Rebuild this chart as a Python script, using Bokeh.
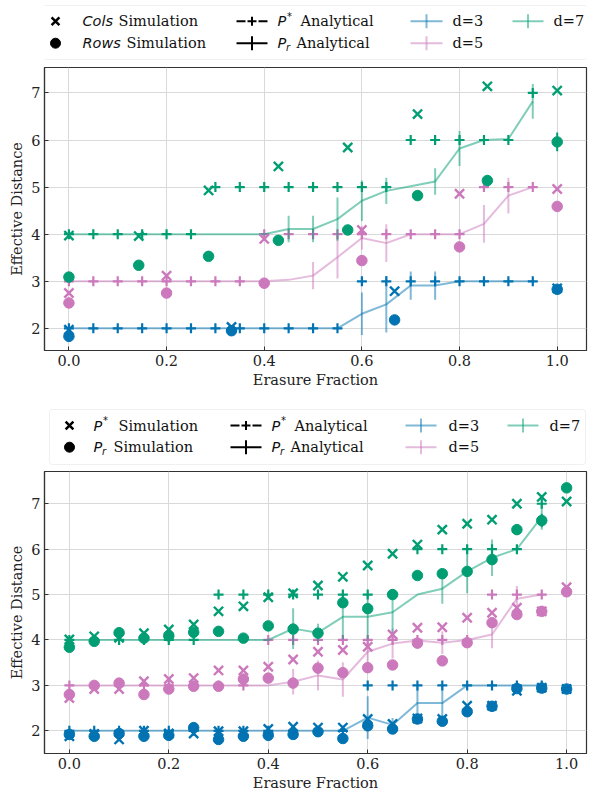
import numpy as np
from bokeh.plotting import figure
from bokeh.layouts import column
from bokeh.models import Range1d, FixedTicker, NumeralTickFormatter, BoxAnnotation
from bokeh.core.properties import value
from bokeh.embed import file_html
from bokeh.resources import INLINE

C3, C5, C7 = "#0173B2", "#CC78BC", "#029E73"
SERIF = "DejaVu Serif"
SANS = "DejaVu Sans"
FS = "14.5px"

# ---------------- data ----------------
x_ana = [0.0, 0.05, 0.1, 0.15, 0.2, 0.25, 0.3, 0.35, 0.4, 0.45,
         0.5, 0.55, 0.6, 0.65, 0.7, 0.75, 0.8, 0.85, 0.9, 0.95]
x_ticks = [0.0, 0.2, 0.4, 0.6, 0.8, 1.0]
y_ticks = [2, 3, 4, 5, 6, 7]

# top panel: analytical
top_pstar_d3 = [2, 2, 2, 2, 2, 2, 2, 2, 2, 2, 2, 2, 3, 3, 3, 3, 3, 3, 3, 3]
top_pstar_d5 = [3, 3, 3, 3, 3, 3, 3, 3, 4, 4, 4, 4, 4, 4, 4, 4, 4, 5, 5, 5]
top_pstar_d7 = [4, 4, 4, 4, 4, 4, 5, 5, 5, 5, 5, 5, 5, 5, 6, 6, 6, 6, 6, 7]
top_pr_d3 = [2, 2, 2, 2, 2, 2, 2, 2, 2, 2, 2, 2, 2.31, 2.51, 2.91, 2.91, 3, 3, 3, 3]
top_pr_d3_err = [0, 0, 0, 0, 0, 0, 0, 0, 0, 0, 0, 0, 0.45, 0.6, 0.3, 0.3, 0, 0, 0, 0]
top_pr_d5 = [3, 3, 3, 3, 3, 3, 3, 3, 3, 3.03, 3.12, 3.51, 3.92, 3.81, 4.0, 4.0, 4.0, 4.22, 4.82, 5.0]
top_pr_d5_err = [0, 0, 0, 0, 0, 0, 0, 0, 0, 0, 0.29, 0.45, 0.25, 0.4, 0, 0, 0, 0.4, 0.38, 0]
top_pr_d7 = [4, 4, 4, 4, 4, 4, 4, 4, 4, 4.11, 4.11, 4.32, 4.71, 4.92, 5.02, 5.12, 5.82, 6.0, 6.02, 6.82]
top_pr_d7_err = [0, 0, 0, 0, 0, 0, 0, 0, 0, 0.28, 0.28, 0.46, 0.43, 0.28, 0, 0.28, 0.37, 0, 0, 0.37]

# top panel: simulations
top_x_d3 = [0.0, 0.333, 0.667, 1.0]
top_cols_d3 = [1.97, 2.03, 2.79, 2.85]
top_rows_d3 = [1.83, 1.95, 2.18, 2.83]
top_x_d5 = [0.0, 0.2, 0.4, 0.6, 0.8, 1.0]
top_cols_d5 = [2.75, 3.12, 3.90, 4.09, 4.86, 4.96]
top_rows_d5 = [2.54, 2.75, 2.96, 3.44, 3.73, 4.59]
top_x_d7 = [0.0, 0.143, 0.286, 0.429, 0.571, 0.714, 0.857, 1.0]
top_cols_d7 = [3.97, 3.96, 4.93, 5.44, 5.84, 6.55, 7.14, 7.05]
top_rows_d7 = [3.09, 3.34, 3.53, 3.87, 4.09, 4.82, 5.14, 5.96]
top_rows_d7_err = [0.05, 0.1, 0.08, 0.1, 0.05, 0.05, 0.1, 0.2]

# bottom panel: analytical
bot_pstar_d3 = [2, 2, 2, 2, 2, 2, 2, 2, 2, 2, 2, 2, 3, 3, 3, 3, 3, 3, 3, 3]
bot_pstar_d5 = [3, 3, 3, 3, 3, 3, 3, 3, 4, 4, 4, 4, 4, 4, 4, 4, 4, 5, 5, 5]
bot_pstar_d7 = [4, 4, 4, 4, 4, 4, 5, 5, 5, 5, 5, 5, 5, 5, 6, 6, 6, 6, 6, 7]
bot_pr_d3 = [2, 2, 2, 2, 2, 2, 2, 2, 2, 2, 2, 2, 2.29, 2.13, 2.61, 2.61, 3, 3, 3, 3]
bot_pr_d3_err = [0, 0, 0, 0, 0, 0, 0, 0, 0, 0, 0, 0, 0.47, 0.15, 0.35, 0.37, 0, 0, 0, 0]
bot_pr_d5 = [3, 3, 3, 3, 3, 3, 3, 3, 3, 3.08, 3.22, 3.13, 3.74, 3.92, 3.99, 3.94, 4.0, 4.12, 4.91, 5.0]
bot_pr_d5_err = [0, 0, 0, 0, 0, 0, 0, 0, 0, 0.28, 0.33, 0.38, 0.3, 0.33, 0, 0.25, 0, 0.3, 0.28, 0]
bot_pr_d7 = [4, 4, 4, 4, 4, 4, 4, 4, 4, 4.25, 4.16, 4.51, 4.51, 4.61, 5.0, 5.13, 5.51, 5.81, 6.0, 6.71]
bot_pr_d7_err = [0, 0, 0, 0, 0, 0, 0, 0, 0, 0.45, 0.2, 0.5, 0.5, 0.5, 0, 0.33, 0.48, 0.4, 0, 0.28]

# bottom panel: simulations
bot_x_sim = [0.0, 0.05, 0.1, 0.15, 0.2, 0.25, 0.3, 0.35, 0.4, 0.45, 0.5,
             0.55, 0.6, 0.65, 0.7, 0.75, 0.8, 0.85, 0.9, 0.95, 1.0]
bot_sx_d3 = [1.88, 1.93, 1.81, 2.0, 1.94, 1.94, 1.99, 1.99, 2.04, 2.09, 2.07,
             2.07, 2.26, 2.15, 2.27, 2.26, 2.55, 2.55, 2.88, 2.95, 2.92]
bot_sc_d3 = [1.92, 1.88, 1.94, 1.88, 1.90, 2.07, 1.81, 1.88, 1.90, 1.92, 1.98,
             1.83, 2.11, 2.04, 2.26, 2.21, 2.42, 2.54, 2.93, 2.94, 2.92]
bot_sx_d5 = [2.72, 2.92, 2.92, 3.09, 3.14, 3.16, 3.33, 3.33, 3.41, 3.57, 3.74,
             3.78, 3.85, 4.12, 4.27, 4.28, 4.49, 4.60, 4.71, 4.63, 5.16]
bot_sc_d5 = [2.80, 3.0, 3.05, 2.80, 2.92, 2.98, 2.98, 3.14, 3.16, 3.05, 3.38,
             3.28, 3.39, 3.45, 3.93, 3.54, 3.94, 4.38, 4.56, 4.63, 5.06]
bot_sx_d7 = [4.01, 4.08, 4.05, 4.15, 4.23, 4.34, 4.63, 4.74, 4.94, 5.03, 5.20,
             5.39, 5.64, 5.90, 6.10, 6.43, 6.56, 6.65, 7.0, 7.15, 7.05]
bot_sc_d7 = [3.84, 3.97, 4.16, 4.04, 4.09, 4.17, 4.19, 4.04, 4.31, 4.24, 4.15,
             4.82, 4.69, 5.0, 5.42, 5.46, 5.51, 5.77, 6.43, 6.63, 7.35]
bot_sc_d7_err = [0, 0, 0, 0, 0, 0, 0, 0.08, 0, 0, 0,
                 0, 0, 0, 0, 0, 0, 0, 0.1, 0.15, 0]

W = 589
MBL = 44
MBR = 3


def make_plot(h, yr, xr, mbt, mbb):
    p = figure(width=W, height=h, x_range=Range1d(*xr), y_range=Range1d(*yr),
               toolbar_location=None, output_backend="svg",
               min_border_left=MBL, min_border_right=MBR,
               min_border_top=mbt, min_border_bottom=mbb)
    p.xaxis.ticker = FixedTicker(ticks=x_ticks)
    p.xaxis.formatter = NumeralTickFormatter(format="0.0")
    p.yaxis.ticker = FixedTicker(ticks=y_ticks)
    p.xaxis.axis_label = "Erasure Fraction"
    p.yaxis.axis_label = "Effective Distance"
    for ax in p.axis:
        ax.major_label_text_font = SERIF
        ax.major_label_text_font_size = FS
        ax.major_label_text_color = "#222222"
        ax.axis_label_text_font = SERIF
        ax.axis_label_text_font_style = "normal"
        ax.axis_label_text_font_size = FS
        ax.axis_label_text_color = "#222222"
        ax.major_tick_in = 4
        ax.major_tick_out = 0
        ax.minor_tick_in = 0
        ax.minor_tick_out = 0
        ax.axis_line_color = "#333333"
        ax.axis_line_width = 1.2
        ax.major_tick_line_color = "#333333"
        ax.major_label_standoff = 4
        ax.axis_label_standoff = 3
    p.grid.grid_line_color = "#d9d9d9"
    p.grid.grid_line_width = 1
    p.outline_line_color = "#333333"
    p.outline_line_width = 1.2
    return p


def errbars(p, x, y, err, color, alpha):
    x = np.asarray(x, float)
    y = np.asarray(y, float)
    e = np.asarray(err, float)
    m = e > 0
    p.segment(x0=x[m], y0=(y - e)[m], x1=x[m], y1=(y + e)[m],
              line_color=color, line_alpha=alpha, line_width=2)


def analytical(p, pstar, pr, pr_err, color):
    p.line(x_ana, pr, line_color=color, line_alpha=0.5, line_width=2)
    errbars(p, x_ana, pr, pr_err, color, 0.5)
    p.scatter(x_ana, pstar, marker="cross", size=10, line_color=color, line_width=2.2)


def sims(p, xs, sx, sc, color, sc_err=None):
    if sc_err is not None:
        errbars(p, xs, sc, sc_err, color, 1.0)
    p.scatter(xs, sx, marker="x", size=13, line_color=color, line_width=2.4)
    p.scatter(xs, sc, marker="circle", size=10.5, fill_color=color, line_color=color)


# ---------------- top panel ----------------
p1 = make_plot(337, (1.53, 7.54), (-0.05, 1.06), 4, 50)
analytical(p1, top_pstar_d3, top_pr_d3, top_pr_d3_err, C3)
analytical(p1, top_pstar_d5, top_pr_d5, top_pr_d5_err, C5)
analytical(p1, top_pstar_d7, top_pr_d7, top_pr_d7_err, C7)
sims(p1, top_x_d3, top_cols_d3, top_rows_d3, C3)
sims(p1, top_x_d5, top_cols_d5, top_rows_d5, C5)
sims(p1, top_x_d7, top_cols_d7, top_rows_d7, C7, top_rows_d7_err)

# ---------------- bottom panel ----------------
p2 = make_plot(326, (1.5, 7.71), (-0.05, 1.04), 4, 40)
analytical(p2, bot_pstar_d3, bot_pr_d3, bot_pr_d3_err, C3)
analytical(p2, bot_pstar_d5, bot_pr_d5, bot_pr_d5_err, C5)
analytical(p2, bot_pstar_d7, bot_pr_d7, bot_pr_d7_err, C7)
sims(p2, bot_x_sim, bot_sx_d3, bot_sc_d3, C3)
sims(p2, bot_x_sim, bot_sx_d5, bot_sc_d5, C5)
sims(p2, bot_x_sim, bot_sx_d7, bot_sc_d7, C7, bot_sc_d7_err)


# ---------------- legends ----------------
def txt(p, x, y, s, font=SERIF, size=FS, style="normal"):
    p.text(x=[x], y=[y], text=[s], text_font=value(font), text_font_size=value(size),
           text_font_style=value(style), text_baseline="middle", text_align="left",
           text_color="#111111")


def legend_fig(h, box, rows, cols, labels):
    # data coordinates of this figure equal page pixels (x) and pixels from its top (y)
    p = figure(width=W, height=h, x_range=Range1d(MBL, W - MBR), y_range=Range1d(h, 0),
               toolbar_location=None, output_backend="svg",
               min_border_left=MBL, min_border_right=MBR,
               min_border_top=0, min_border_bottom=0,
               x_axis_type=None, y_axis_type=None, outline_line_color=None)
    p.grid.visible = False
    bl, br, bt, bb = box
    p.add_layout(BoxAnnotation(left=bl, right=br, top=bt, bottom=bb,
                               fill_color="white", fill_alpha=1, line_color="#cccccc",
                               line_width=1, border_radius=3, level="underlay"))
    r1, r2 = rows
    mx, lx0, lx1, d1a, d1b, d1t, d2a, d2b, d2t = cols
    # markers
    p.scatter([mx], [r1], marker="x", size=11, line_color="black", line_width=2.5)
    p.scatter([mx], [r2], marker="circle", size=10, fill_color="black", line_color="black")
    # dashed P* analytical
    mid = (lx0 + lx1) / 2
    p.segment(x0=[lx0, mid + 6.5], y0=[r1, r1], x1=[mid - 6.5, lx1], y1=[r1, r1],
              line_color="black", line_width=2)
    p.scatter([mid], [r1], marker="cross", size=9, line_color="black", line_width=2)
    # solid P_r analytical
    p.segment(x0=[lx0], y0=[r2], x1=[lx1], y1=[r2], line_color="black", line_width=2)
    p.segment(x0=[mid], y0=[r2 - 7], x1=[mid], y1=[r2 + 7], line_color="black", line_width=2)
    # d entries
    for (a, b, t, r, c, lab) in [(d1a, d1b, d1t, r1, C3, "d=3"), (d1a, d1b, d1t, r2, C5, "d=5"),
                                 (d2a, d2b, d2t, r1, C7, "d=7")]:
        m = (a + b) / 2
        p.segment(x0=[a], y0=[r], x1=[b], y1=[r], line_color=c, line_alpha=0.5, line_width=2)
        p.segment(x0=[m], y0=[r - 7], x1=[m], y1=[r + 7], line_color=c, line_alpha=0.5, line_width=2)
        txt(p, t, r, lab)
    # labels
    for (x, y, parts) in labels:
        for (dx, dy, s, font, size, style) in parts:
            txt(p, x + dx, y + dy, s, font, size, style)
    return p


def sim_label(word, off):
    return [(0, 0, word, SANS, FS, "italic"), (off, 0, "Simulation", SERIF, FS, "normal")]


def pstar_label(word, off):
    return [(0, 0, "P", SANS, FS, "italic"), (9.5, -5, "*", SANS, "10px", "normal"),
            (off, 0, word, SERIF, FS, "normal")]


def pr_label(word, off):
    return [(0, 0, "P", SANS, FS, "italic"), (8.5, 4, "r", SANS, "10px", "italic"),
            (off, 0, word, SERIF, FS, "normal")]


leg1 = legend_fig(63, (35, 587, 5, 59), (20.7, 42.7),
                  (55, 236, 267, 410, 442, 452, 512, 543, 553),
                  [(82, 20.7, sim_label("Cols", 36)), (82, 42.7, sim_label("Rows", 44)),
                   (277, 20.7, pstar_label("Analytical", 23)), (277, 42.7, pr_label("Analytical", 19))])

leg2 = legend_fig(67, (49, 585, 9, 64), (25, 46.7),
                  (69, 230, 261, 405, 436, 448, 507, 538, 549),
                  [(93, 25, pstar_label("Simulation", 25)), (93, 46.7, pr_label("Simulation", 20)),
                   (271, 25, pstar_label("Analytical", 23)), (271, 46.7, pr_label("Analytical", 19))])

layout = column(leg1, p1, leg2, p2)

open("out.html", "w").write(file_html(layout, INLINE))
